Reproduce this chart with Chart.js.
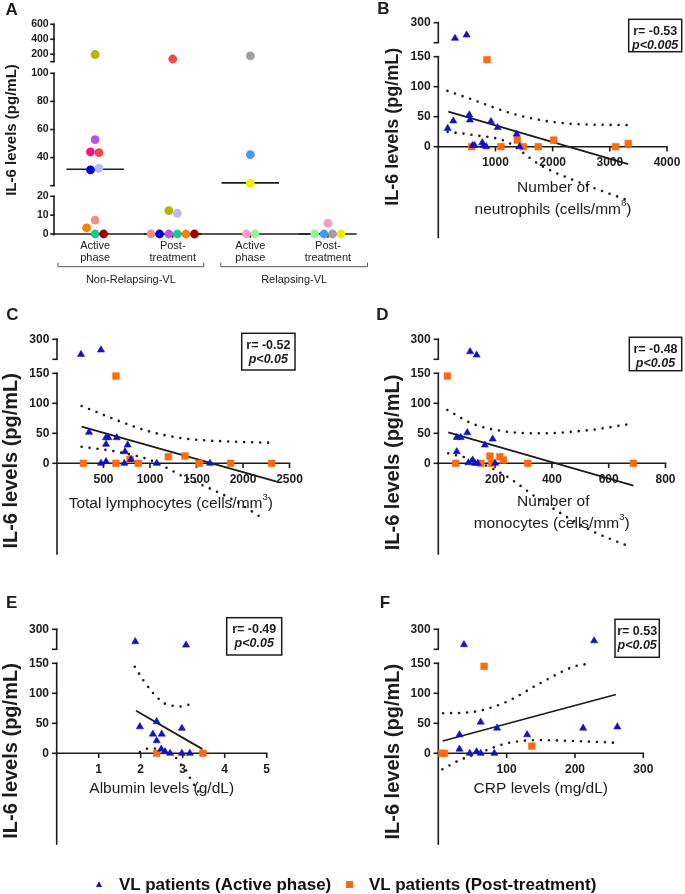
<!DOCTYPE html>
<html lang="en">
<head>
<meta charset="UTF-8">
<title>IL-6 levels in VL patients</title>
<script src="https://cdn.jsdelivr.net/npm/chart.js@4.4.1/dist/chart.umd.min.js"></script>
<style>
  body { margin: 0; background: #fff; }
  #wrap { position: relative; width: 685px; height: 894px; overflow: hidden; }
  #wrap canvas { position: absolute; left: 0; top: 0; }
  .lg { position: absolute; font: bold 17px "Liberation Sans", Arial, sans-serif; color: #111; line-height: 20px; white-space: nowrap; }
  .tri { position: absolute; width: 0; height: 0; border-left: 3.5px solid transparent; border-right: 3.5px solid transparent; border-bottom: 6px solid #1212c4; }
  .sq { position: absolute; width: 7px; height: 7px; background: #ff6a0d; }
</style>
</head>
<body>
<div id="wrap">
  <canvas id="pA" width="685" height="894"></canvas>
  <canvas id="pB" width="685" height="894"></canvas>
  <canvas id="pC" width="685" height="894"></canvas>
  <canvas id="pD" width="685" height="894"></canvas>
  <canvas id="pE" width="685" height="894"></canvas>
  <canvas id="pF" width="685" height="894"></canvas>
  <div class="tri" style="left:96px; top:881px;"></div>
  <div class="lg" style="left:119px; top:875px;">VL patients (Active phase)</div>
  <div class="sq" style="left:346px; top:881px;"></div>
  <div class="lg" style="left:369px; top:875px;">VL patients (Post-treatment)</div>
</div>

<script>
// ---- panel A: IL-6 (pg/mL) per patient, x = group slot (with the dot-plot spread)
const catLabelsA = [['Active', 'phase'], ['Post-', 'treatment'], ['Active', 'phase'], ['Post-', 'treatment']];
const groupLabelsA = ['Non-Relapsing-VL', 'Relapsing-VL'];
const yTicksA = [0, 10, 20, 40, 60, 80, 100, 200, 400, 600];

const nrActiveIL6 = [196, 52.8, 44, 43.5, 31.3, 32.4, 7.4, 3.2, 0, 0];
const nrActivePos = [1.0, 1.0, 0.94, 1.05, 0.94, 1.05, 1.0, 0.89, 1.0, 1.11];
const nrActiveCol = ['#b5b500', '#b355dd', '#ea1a80', '#f44848', '#0000dd', '#b9b9f5', '#f58c8c', '#f58200', '#1fc790', '#a30000'];

const nrPostIL6 = [136, 12.4, 11, 0, 0, 0, 0, 0, 0];
const nrPostPos = [2.0, 1.95, 2.06, 1.72, 1.83, 1.95, 2.06, 2.17, 2.28];
const nrPostCol = ['#f44848', '#b5b500', '#b9b9f5', '#f58c8c', '#0000dd', '#b355dd', '#1fc790', '#f58200', '#a30000'];

const rActiveIL6 = [177, 42.1, 21.6, 0, 0];
const rActivePos = [3.0, 3.0, 3.0, 2.95, 3.06];
const rActiveCol = ['#a0a0a0', '#4a96f0', '#f2ea00', '#f79cc8', '#96f096'];

const rPostIL6 = [5.7, 0, 0, 0, 0];
const rPostPos = [4.0, 3.83, 3.95, 4.06, 4.17];
const rPostCol = ['#f79cc8', '#96f096', '#4a96f0', '#a0a0a0', '#f2ea00'];

const mediansA = [31.7, 0, 22, 0];

// ---- panels B-F: IL-6 vs blood parameters
const yTicksBF = [0, 50, 100, 150, 300];
const corrR = ['r= -0.53', 'r= -0.52', 'r= -0.48', 'r= -0.49', 'r= 0.53'];
const corrP = ['p<0.005', 'p<0.05', 'p<0.05', 'p<0.05', 'p<0.05'];

// B neutrophils
const neutroTicks = [1000, 2000, 3000, 4000];
const neutroActX = [292, 495, 164, 262, 542, 554, 921, 1038, 1370, 601, 635, 769, 792, 839, 1422];
const neutroActY = [183, 208, 30.6, 43, 53, 44.5, 42, 32, 21, 2, 2, 6.7, 2, 0, 0];
const neutroPostX = [851, 584, 1096, 1381, 1486, 1748, 2017, 3101, 3322];
const neutroPostY = [145, 0, 0, 11, 0, 0, 11, 0, 5.5];
const neutroFitX = [175, 3322];
const neutroFitY = [58.3, -29];
const neutroUpX = [160, 612, 1195, 1778, 2360, 3304];
const neutroUpY = [93, 78, 58, 44.5, 38, 36];
const neutroLoX = [164, 612, 1195, 1778, 2360, 3304];
const neutroLoY = [25, 19.5, 8.3, -30.5, -55.5, -89];

// C lymphocytes
const lymphTicks = [500, 1000, 1500, 2000, 2500];
const lymphActX = [258, 473, 344, 527, 552, 527, 642, 760, 731, 796, 473, 527, 724, 1072, 1645];
const lymphActY = [187, 220, 51.7, 42.7, 42.7, 31.7, 42.7, 30.5, 19.4, 6.6, 0, 3, 0, 0, 0];
const lymphPostX = [634, 283, 634, 785, 874, 1197, 1376, 1527, 1867, 2308];
const lymphPostY = [145.5, 0, 0, 6.7, 0, 11, 12.2, 0, 0, 0];
const lymphFitX = [265, 2362];
const lymphFitY = [61, -30.6];
const lymphUpX = [265, 642, 1000, 1358, 1896, 2272];
const lymphUpY = [95.5, 72, 52.7, 41.6, 36, 34.4];
const lymphLoX = [265, 642, 1000, 1358, 1896, 2237];
const lymphLoY = [27.7, 19.3, 5.5, -22, -61, -94.5];

// D monocytes
const monoTicks = [200, 400, 600, 800];
const monoActX = [112, 135, 65, 65, 79, 102, 164, 191.5, 106, 121, 129, 139, 200];
const monoActY = [207, 182, 19.4, 43, 43, 51, 30.5, 40.5, 1, 5.5, 0, 0, 0];
const monoPostX = [32, 61, 150, 182, 188, 217, 229, 315, 687];
const monoPostY = [145.5, 0, 0, 12, 0, 11, 5.5, 0, 0];
const monoFitX = [35, 687];
const monoFitY = [51.7, -37.3];
const monoUpX = [32, 123, 241, 358, 534, 669];
const monoUpY = [88.8, 65.5, 52.7, 50, 55.5, 65];
const monoLoX = [35, 123, 241, 358, 534, 674];
const monoLoY = [16.7, 5.5, -22, -61, -111, -139];

// E albumin
const albTicks = [1, 2, 3, 4, 5];
const albActX = [1.87, 3.08, 1.98, 2.38, 2.29, 2.5, 2.38, 2.98, 2.49, 2.58, 2.7, 2.98, 3.17];
const albActY = [207, 182, 44.3, 52.7, 32, 32, 21, 41.7, 7, 2.7, 0, 0, 0];
const albPostX = [2.38, 3.48];
const albPostY = [0, 0];
const albFitX = [1.89, 3.47];
const albFitY = [71, 7];
const albUpX = [1.86, 2.06, 2.3, 2.44, 2.57, 2.78, 2.94, 3.14, 3.29];
const albUpY = [144.3, 122, 100, 90, 83, 79, 78, 81, 84];
const albLoX = [1.98, 2.05, 2.25, 2.45, 2.65, 2.82, 2.9, 3.1, 3.19, 3.39];
const albLoY = [2, 5.5, 8.3, 7, 2, -5.6, -14, -30.6, -43, -66];

// F CRP
const crpTicks = [100, 200, 300];
const crpActX = [37.6, 228, 31, 62, 86, 130, 212, 262, 31, 46, 56, 62, 82];
const crpActY = [185, 214, 31, 52, 42, 31, 42, 44, 7, 0, 2.7, 0, 0];
const crpPostX = [5, 9, 67, 137];
const crpPostY = [0, 0, 145, 12];
const crpFitX = [6.4, 260];
const crpFitY = [20.5, 98];
const crpUpX = [7, 51, 100, 149, 198, 225];
const crpUpY = [66.7, 69, 86, 116.7, 144.3, 150];
const crpLoX = [6, 32, 61, 100, 149, 198, 256];
const crpLoY = [-26.7, -11, 1, 16.7, 22, 20.5, 17.7];

// ---------------------------------------------------------------
const FONT = '"Liberation Sans", Arial, Helvetica, sans-serif';
const INK = '#1c1c1c';
const BLUE = '#1212c4';
const ORANGE = '#ff6a0d';

// y axis with GraphPad-style breaks: each piece [from, to, relative height], gaps between pieces
class BrokenScale extends Chart.LinearScale {
  segPixels() {
    const o = this.options, a = this.chart.chartArea;
    let total = 0;
    o.segs.forEach(s => total += s[2]);
    o.gaps.forEach(g => total += g);
    const k = (a.bottom - a.top) / total;
    let base = a.bottom;
    const out = [];
    o.segs.forEach((s, i) => {
      out.push([base, base - s[2] * k, s[0], s[1]]);
      base -= (s[2] + (o.gaps[i] || 0)) * k;
    });
    return out;
  }
  getPixelForValue(v) {
    const p = this.segPixels();
    for (let i = 0; i < p.length; i++) {
      const [b, t, lo, hi] = p[i];
      if (v <= hi || i === p.length - 1) return b - (v - lo) / (hi - lo) * (b - t);
    }
  }
  getValueForPixel(px) {
    const p = this.segPixels();
    for (let i = 0; i < p.length; i++) {
      const [b, t, lo, hi] = p[i];
      if (px >= t || i === p.length - 1) return lo + (b - px) / (b - t) * (hi - lo);
    }
  }
}
BrokenScale.id = 'broken';
BrokenScale.defaults = Chart.LinearScale.defaults;
Chart.register(BrokenScale);

const yBrokenA = { segs: [[0, 20, 37.7], [20, 100, 112.4], [100, 600, 37.4]], gaps: [10.6, 11.6] };
const yBrokenBF = { segs: [[-150, 150, 180], [150, 300, 20]], gaps: [14] };

function supText(ctx, str, cx, cy, size, weight) {
  const parts = str.split('^');
  const big = `${weight} ${size}px ${FONT}`, small = `${weight} ${size * 0.62}px ${FONT}`;
  const head = parts[0];
  const sup = parts.length > 1 ? parts[1][0] : '';
  const tail = parts.length > 1 ? parts[1].slice(1) : '';
  ctx.font = big; const w0 = ctx.measureText(head).width, w2 = ctx.measureText(tail).width;
  ctx.font = small; const w1 = ctx.measureText(sup).width;
  let x = cx - (w0 + w1 + w2) / 2;
  ctx.textAlign = 'left';
  ctx.font = big; ctx.fillText(head, x, cy); x += w0;
  ctx.font = small; ctx.fillText(sup, x, cy - size * 0.4); x += w1;
  ctx.font = big; ctx.fillText(tail, x, cy);
}

// axes, ticks, titles and the r/p box, all placed through the chart's scales
const framePlugin = {
  id: 'frame',
  beforeDatasetsDraw(chart, args, o) {
    const ctx = chart.ctx, xs = chart.scales.x, ys = chart.scales.y, a = chart.chartArea;
    const line = (x1, y1, x2, y2) => { ctx.beginPath(); ctx.moveTo(x1, y1); ctx.lineTo(x2, y2); ctx.stroke(); };
    ctx.save();
    ctx.strokeStyle = INK; ctx.fillStyle = INK; ctx.lineWidth = 1.6;

    ys.segPixels().forEach((s, i) => {
      line(a.left, s[0] + (i === 0 ? 1.5 : 0), a.left, s[1] - 0.8);
      if (i > 0) line(a.left - o.tickLen, s[0], a.left + 0.8, s[0]);
    });
    ctx.font = `bold ${o.tickFont}px ${FONT}`;
    ctx.textAlign = 'right'; ctx.textBaseline = 'middle';
    o.yTicks.forEach(v => {
      const y = ys.getPixelForValue(v);
      line(a.left - o.tickLen, y, a.left + 0.8, y);
      ctx.fillText(String(v), a.left - o.tickLen - o.tickGap, y);
    });

    const y0 = ys.getPixelForValue(0);
    line(a.left - 0.8, y0, a.right + 0.8, y0);
    ctx.textAlign = 'center';
    o.xTicks.forEach(v => {
      const x = xs.getPixelForValue(v);
      line(x, y0, x, y0 + o.tickLen);
      if (o.xTickLabels) ctx.fillText(String(v), x, y0 + 16);
    });

    if (o.cats) {
      ctx.font = `11px ${FONT}`;
      o.cats.forEach((c, i) => {
        const x = xs.getPixelForValue(i + 1);
        ctx.fillText(c[0], x, y0 + 12);
        ctx.fillText(c[1], x, y0 + 23.8);
      });
      ctx.lineWidth = 1; ctx.strokeStyle = '#555';
      o.groups.forEach(g => {
        const x1 = xs.getPixelForValue(g[0]), x2 = xs.getPixelForValue(g[1]), yb = y0 + 32.7;
        ctx.beginPath(); ctx.moveTo(x1, yb - 4); ctx.lineTo(x1, yb); ctx.lineTo(x2, yb); ctx.lineTo(x2, yb - 4); ctx.stroke();
        ctx.fillText(g[2], (x1 + x2) / 2, y0 + 45.5);
      });
    }

    // panel letter
    ctx.font = `bold 17px ${FONT}`;
    ctx.fillText(o.letter[0], o.letter[1], o.letter[2]);

    // y title
    ctx.save();
    ctx.translate(o.yTitle[1], o.yTitle[2]);
    ctx.rotate(-Math.PI / 2);
    ctx.font = `bold ${o.yTitle[3]}px ${FONT}`;
    ctx.fillText(o.yTitle[0], 0, 0);
    ctx.restore();

    // x title
    if (o.xTitle) o.xTitle.forEach(t => supText(ctx, t[0], t[1], t[2], 15.5, 'normal'));

    // correlation box
    if (o.box) {
      const [l, t, r, b] = o.box;
      ctx.lineWidth = 1.5; ctx.strokeStyle = INK;
      ctx.strokeRect(l, t, r - l, b - t);
      ctx.textAlign = 'center';
      ctx.font = `bold 12.5px ${FONT}`;
      ctx.fillText(o.boxText[0], (l + r) / 2, t + 12);
      ctx.font = `italic bold 12.5px ${FONT}`;
      ctx.fillText(o.boxText[1], (l + r) / 2, t + 26);
    }
    ctx.restore();
  }
};

function pts(xs, ys) { return xs.map((x, i) => ({ x: x, y: ys[i] })); }

function panel(id, area, xr, yb, datasets, deco) {
  return new Chart(document.getElementById(id), {
    type: 'scatter',
    data: { datasets: datasets },
    options: {
      responsive: false,
      animation: false,
      events: [],
      layout: { padding: { left: area[0], right: 685 - area[1], top: area[2], bottom: 894 - area[3] } },
      plugins: { legend: { display: false }, tooltip: { enabled: false }, frame: deco },
      scales: {
        x: { type: 'linear', display: false, min: xr[0], max: xr[1] },
        y: { type: 'broken', display: false, min: yb.segs[0][0], max: yb.segs[yb.segs.length - 1][1], segs: yb.segs, gaps: yb.gaps }
      }
    },
    plugins: [framePlugin]
  });
}

function corrSets(actX, actY, postX, postY, fitX, fitY, upX, upY, loX, loY) {
  const dotted = {
    showLine: true, pointRadius: 0, borderColor: INK, borderWidth: 2.6,
    borderDash: [0, 8], borderCapStyle: 'round', cubicInterpolationMode: 'monotone', clip: false
  };
  return [
    { data: pts(actX, actY), pointStyle: 'triangle', pointRadius: 4.1, backgroundColor: BLUE, borderColor: BLUE, borderWidth: 0.6, clip: false },
    { data: pts(postX, postY), pointStyle: 'rect', pointRadius: 4.7, backgroundColor: ORANGE, borderColor: ORANGE, borderWidth: 0.6, clip: false },
    { data: pts(fitX, fitY), showLine: true, pointRadius: 0, borderColor: INK, borderWidth: 1.8, clip: false },
    Object.assign({ data: pts(upX, upY) }, dotted),
    Object.assign({ data: pts(loX, loY) }, dotted)
  ];
}

function dotGroup(pos, vals, cols) {
  return { data: pts(pos, vals), pointRadius: 4.4, backgroundColor: cols, borderWidth: 0, clip: false };
}

function medianSets() {
  return mediansA.map((m, i) => ({
    data: [{ x: i + 1 - 0.37, y: m }, { x: i + 1 + 0.37, y: m }],
    showLine: true, pointRadius: 0, borderColor: INK, borderWidth: 1.6, clip: false
  }));
}

const baseBF = { yTicks: yTicksBF, tickFont: 12, tickLen: 4.7, tickGap: 3, xTickLabels: true };

panel('pA', [54, 345, 24.3, 234], [0.47, 4.22], yBrokenA,
  [dotGroup(nrActivePos, nrActiveIL6, nrActiveCol), dotGroup(nrPostPos, nrPostIL6, nrPostCol),
   dotGroup(rActivePos, rActiveIL6, rActiveCol), dotGroup(rPostPos, rPostIL6, rPostCol)].concat(medianSets()),
  { letter: ['A', 11.7, 10], yTicks: yTicksA, tickFont: 10.5, tickLen: 3.8, tickGap: 1.5,
    xTicks: [1, 2, 3, 4], xTickLabels: false, cats: catLabelsA,
    groups: [[0.52, 2.4, groupLabelsA[0]], [2.62, 4.51, groupLabelsA[1]]],
    yTitle: ['IL-6 levels (pg/mL)', 12, 130, 15] });

panel('pB', [438.3, 667, 22.7, 236.7], [0, 4000], yBrokenBF,
  corrSets(neutroActX, neutroActY, neutroPostX, neutroPostY, neutroFitX, neutroFitY, neutroUpX, neutroUpY, neutroLoX, neutroLoY),
  Object.assign({}, baseBF, { letter: ['B', 383.3, 9], xTicks: neutroTicks,
    yTitle: ['IL-6 levels (pg/mL)', 393.3, 126.7, 18],
    xTitle: [['Number of', 553.3, 187.7], ['neutrophils (cells/mm^8)', 553, 210]],
    box: [628.7, 19.3, 681.7, 51.7], boxText: [corrR[0], corrP[0]] }));

panel('pC', [57, 289.5, 339.3, 553.3], [0, 2500], yBrokenBF,
  corrSets(lymphActX, lymphActY, lymphPostX, lymphPostY, lymphFitX, lymphFitY, lymphUpX, lymphUpY, lymphLoX, lymphLoY),
  Object.assign({}, baseBF, { letter: ['C', 12.5, 315.8], xTicks: lymphTicks,
    yTitle: ['IL-6 levels (pg/mL)', 11, 460.8, 20],
    xTitle: [['Total lymphocytes (cells/mm^3)', 170.8, 503.3]],
    box: [241.7, 333.3, 295, 370], boxText: [corrR[1], corrP[1]] }));

panel('pD', [438.3, 665.5, 339.3, 553.3], [0, 800], yBrokenBF,
  corrSets(monoActX, monoActY, monoPostX, monoPostY, monoFitX, monoFitY, monoUpX, monoUpY, monoLoX, monoLoY),
  Object.assign({}, baseBF, { letter: ['D', 382.5, 315.8], xTicks: monoTicks,
    yTitle: ['IL-6 levels (pg/mL)', 393.3, 462.5, 20],
    xTitle: [['Number of', 553.3, 501.7], ['monocytes (cells/mm^3)', 551.7, 523.3]],
    box: [629.3, 337.3, 681.7, 370.7], boxText: [corrR[2], corrP[2]] }));

panel('pE', [56.7, 266.7, 629.3, 843.3], [0, 5], yBrokenBF,
  corrSets(albActX, albActY, albPostX, albPostY, albFitX, albFitY, albUpX, albUpY, albLoX, albLoY),
  Object.assign({}, baseBF, { letter: ['E', 11.7, 603.5], xTicks: albTicks,
    yTitle: ['IL-6 levels (pg/mL)', 11, 751, 20],
    xTitle: [['Albumin levels (g/dL)', 161.7, 788.3]],
    box: [226.7, 617.7, 281.7, 655], boxText: [corrR[3], corrP[3]] }));

panel('pF', [438.3, 643.3, 629.3, 843.3], [0, 300], yBrokenBF,
  corrSets(crpActX, crpActY, crpPostX, crpPostY, crpFitX, crpFitY, crpUpX, crpUpY, crpLoX, crpLoY),
  Object.assign({}, baseBF, { letter: ['F', 385, 603.5], xTicks: crpTicks,
    yTitle: ['IL-6 levels (pg/mL)', 393.3, 751.7, 20],
    xTitle: [['CRP levels (mg/dL)', 540.8, 788.3]],
    box: [615, 619.3, 659.3, 657.3], boxText: [corrR[4], corrP[4]] }));
</script>
</body>
</html>
